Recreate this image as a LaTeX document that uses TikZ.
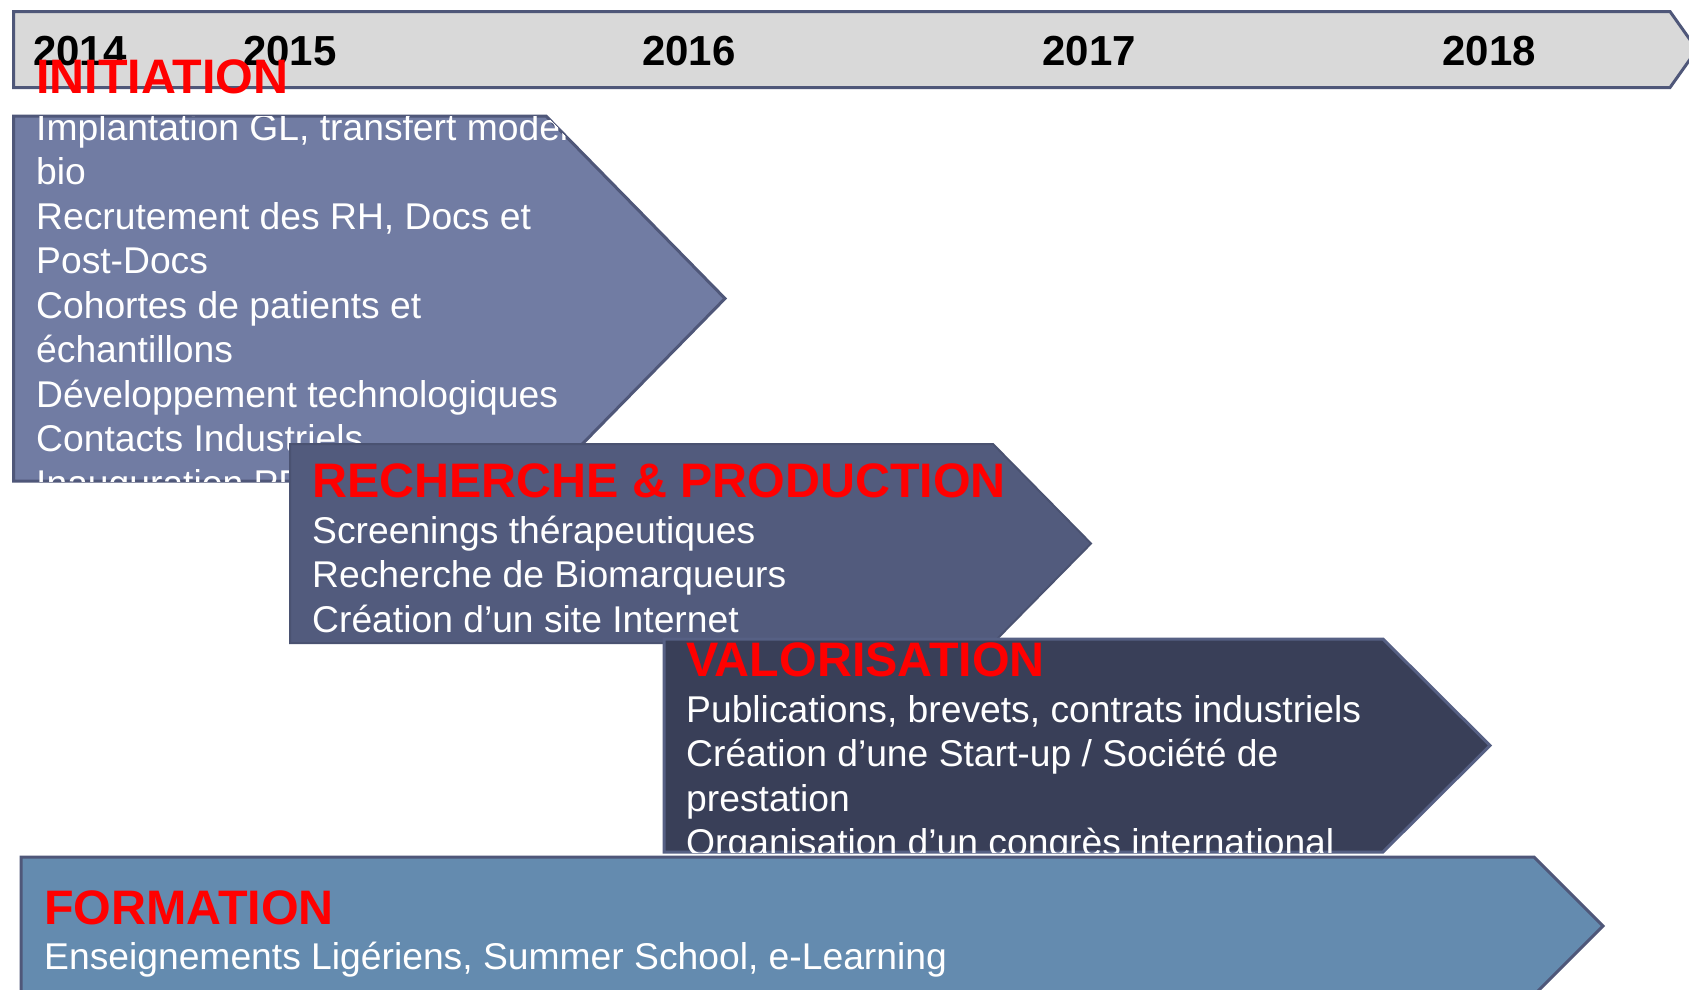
\documentclass[tikz,border=0pt]{standalone}
\usepackage{fontspec}
\setmainfont{Liberation Sans}
\definecolor{barfill}{HTML}{D9D9D9}
\definecolor{edge}{HTML}{4F5779}
\definecolor{initfill}{HTML}{717CA3}
\definecolor{rechfill}{HTML}{525B7D}
\definecolor{valfill}{HTML}{393F58}
\definecolor{valedge}{HTML}{566084}
\definecolor{formfill}{HTML}{648BAF}
\definecolor{titlered}{HTML}{FF0000}
\begin{document}
\begin{tikzpicture}[x=1pt,y=-1pt,
  phase/.style={line width=3pt, line join=miter, draw=edge},
  titletext/.style={anchor=base west, inner sep=0pt, text=titlered, font=\fontsize{48.4}{58}\selectfont\bfseries},
  bodytext/.style={anchor=base west, inner sep=0pt, text=white, font=\fontsize{37.25}{44}\selectfont},
  yeartext/.style={anchor=base, inner sep=0pt, text=black, font=\fontsize{42}{50}\selectfont\bfseries}]
\useasboundingbox (0,0) rectangle (1689,989);
\fill[white] (0,0) rectangle (1689,989);

% timeline bar
\draw[phase, fill=barfill] (13.5,11.5) -- (1670,11.5) -- (1697,49.5) -- (1670,87.5) -- (13.5,87.5) -- cycle;
\node[yeartext] (y2014) at (80,65) {2014};
\node[yeartext] (y2015) at (290,65) {2015};
\node[yeartext] (y2016) at (689,65) {2016};
\node[yeartext] (y2017) at (1089,65) {2017};
\node[yeartext] (y2018) at (1489,65) {2018};

% INITIATION
\draw[phase, fill=initfill] (13.5,116) -- (546,116) -- (725,298.5) -- (546,481) -- (13.5,481) -- cycle;
\begin{scope}
\clip (13.5,116) -- (546,116) -- (725,298.5) -- (546,481) -- (13.5,481) -- cycle;
\foreach \t [count=\i from 0] in {{Implantation GL, transfert modeles}, bio, {Recrutement des RH, Docs et}, Post-Docs, Cohortes de patients et, échantillons, Développement technologiques, Contacts Industriels, Inauguration PF}
  \node[bodytext] (init\i) at (36,{140+44.5*\i}) {\t};
\end{scope}
\node[titletext] (inittitle) at (36,93.5) {INITIATION};

% RECHERCHE & PRODUCTION
\draw[line width=2pt, draw=rechfill!90!black, fill=rechfill] (290,444) -- (993,444) -- (1091,543.5) -- (993,643) -- (290,643) -- cycle;
\node[titletext] (rechtitle) at (312,497) {RECHERCHE \& PRODUCTION};
\node[bodytext] (rech1) at (312,543) {Screenings thérapeutiques};
\node[bodytext] (rech2) at (312,587.5) {Recherche de Biomarqueurs};
\node[bodytext] (rech3) at (312,632) {Création d’un site Internet};

% VALORISATION
\draw[line width=3pt, line join=miter, draw=valedge, fill=valfill] (664,639) -- (1383,639) -- (1490,745.5) -- (1383,852) -- (664,852) -- cycle;
\node[titletext] (valtitle) at (686,676) {VALORISATION};
\begin{scope}
\clip (664,639) -- (1383,639) -- (1490,745.5) -- (1383,852) -- (664,852) -- cycle;
\node[bodytext] (val1) at (686,722) {Publications, brevets, contrats industriels};
\node[bodytext] (val2) at (686,766.5) {Création d’une Start-up / Société de};
\node[bodytext] (val3) at (686,811) {prestation};
\node[bodytext] (val4) at (686,855.5) {Organisation d’un congrès international};
\end{scope}

% FORMATION
\draw[phase, fill=formfill] (21,857) -- (1534,857) -- (1603,926) -- (1534,995) -- (21,995) -- cycle;
\node[titletext] (formtitle) at (44,924) {FORMATION};
\node[bodytext] (form1) at (44,969) {Enseignements Ligériens, Summer School, e-Learning};
\end{tikzpicture}
\end{document}
